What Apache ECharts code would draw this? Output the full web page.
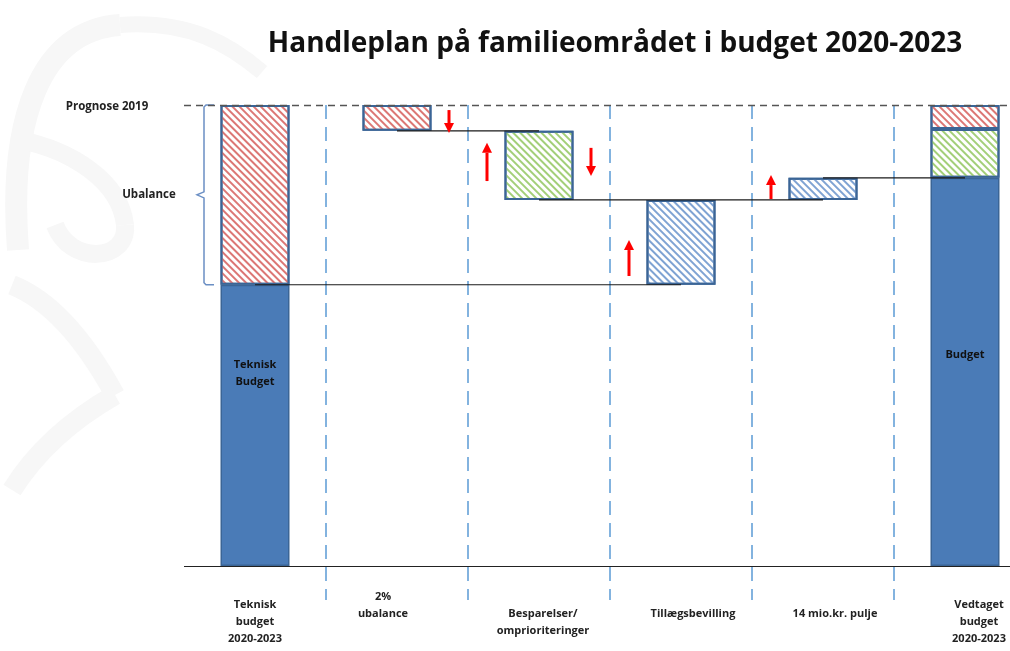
<!DOCTYPE html>
<html>
<head>
<meta charset="utf-8">
<title>Handleplan</title>
<script src="https://cdn.jsdelivr.net/npm/echarts@6/dist/echarts.min.js"></script>
<style>
html, body { margin: 0; padding: 0; background: #fff; }
#main { width: 1010px; height: 651px; }
</style>
</head>
<body>
<div id="main"></div>
<script>
'use strict'
// scale: 0 = bottom line, 100 = Prognose 2019
var categories = [
    'Teknisk\nbudget\n2020-2023',
    '2%\nubalance',
    'Besparelser/\nomprioriteringer',
    'Tillægsbevilling',
    '14 mio.kr. pulje',
    'Vedtaget\nbudget\n2020-2023'
];
var baseValues = [0, 94.4, 79.4, 61, 79.4, 0];
var budgetValues = [61, '-', '-', '-', '-', 84.2];
var blueHatchValues = ['-', '-', '-', 18.4, 4.8, '-'];
var greenValues = ['-', '-', 15, '-', '-', 10.6];
var redValues = [39, 5.6, '-', '-', '-', 5.2];
var barTexts = ['Teknisk\nBudget', '', '', '', '', 'Budget'];
var prognose = 100;
// [from category, to category, level]
var connectors = [[0, 3, 61], [1, 2, 94.4], [2, 4, 79.4], [4, 5, 84.2]];
// [category, side, from, to]
var arrows = [[1, 1, 98.9, 93.9], [2, -1, 83.5, 91.8], [2, 1, 90.7, 84.6], [3, -1, 62.9, 70.7], [4, -1, 79.6, 84.8]];
// [category, low, high]
var ubalance = [[0, 61, 100]];

var chart = echarts.init(document.getElementById('main'));

var border = '#3b6596';
var font = '"Open Sans", sans-serif';
var wm = '#f7f7f7';

// small nudges so the axis labels sit like in the slide
var labelPadding = [
    [0, 0, 0, 0],
    [0, 28, 0, 0],
    [0, 0, 0, 8],
    [0, 0, 0, 24],
    [0, 0, 0, 24],
    [0, 0, 0, 28]
];
var labelAlign = ['middle', 'bottom', 'middle', 'bottom', 'bottom', 'middle'];

function hatch(color) {
    return {
        symbol: 'rect',
        symbolSize: 1,
        color: color,
        dashArrayX: [1, 0],
        dashArrayY: [2, 3],
        rotation: Math.PI / 4
    };
}

function curve(x1, y1, cx1, cy1, cx2, cy2, x2, y2, w) {
    return {
        type: 'bezierCurve', z: -10, silent: true,
        shape: { x1: x1, y1: y1, cpx1: cx1, cpy1: cy1, cpx2: cx2, cpy2: cy2, x2: x2, y2: y2 },
        style: { stroke: wm, lineWidth: w, fill: null }
    };
}

function renderConnector(params, api) {
    var a = api.coord([api.value(0), api.value(2)]);
    var b = api.coord([api.value(1), api.value(2)]);
    return {
        type: 'line',
        z2: 10,
        shape: { x1: a[0], y1: a[1], x2: b[0], y2: b[1] },
        style: { stroke: '#1a1a1a', lineWidth: 1.2 }
    };
}

function renderArrow(params, api) {
    var p1 = api.coord([api.value(0), api.value(2)]);
    var p2 = api.coord([api.value(0), api.value(3)]);
    var x = p1[0] + api.value(1) * 52;
    var dir = p2[1] < p1[1] ? -1 : 1;
    var shaftEnd = p2[1] - dir * 10;
    return {
        type: 'group',
        children: [
            { type: 'line', shape: { x1: x, y1: p1[1], x2: x, y2: shaftEnd }, style: { stroke: '#ff0000', lineWidth: 3 } },
            { type: 'polygon', shape: { points: [[x - 5, shaftEnd], [x + 5, shaftEnd], [x, p2[1]]] }, style: { fill: '#ff0000' } }
        ]
    };
}

function renderBrace(params, api) {
    var lo = api.coord([api.value(0), api.value(1)]);
    var hi = api.coord([api.value(0), api.value(2)]);
    var x = lo[0] - 51;
    var mid = (lo[1] + hi[1]) / 2;
    return {
        type: 'polyline',
        shape: {
            points: [[x + 10, hi[1]], [x + 2, hi[1]], [x, hi[1] + 2], [x, mid - 3], [x - 7, mid],
                [x, mid + 3], [x, lo[1] - 2], [x + 2, lo[1]], [x + 10, lo[1]]]
        },
        style: { stroke: '#6b8fc4', lineWidth: 1.5, fill: null }
    };
}

var barCommon = {
    type: 'bar',
    stack: 'w',
    barWidth: 69,
    silent: true
};

var option = {
    animation: false,
    backgroundColor: '#fff',
    graphic: [
        // faint logo watermark behind the chart
        curve(18, 250, 8, 120, 40, 30, 120, 25, 22),
        curve(120, 25, 190, 20, 230, 45, 262, 72, 16),
        curve(20, 140, 70, 150, 120, 180, 125, 225, 18),
        curve(125, 225, 128, 262, 70, 265, 55, 225, 18),
        curve(12, 285, 50, 300, 85, 340, 115, 395, 20),
        curve(115, 395, 80, 415, 40, 445, 12, 490, 20),
        {
            type: 'text',
            style: {
                text: 'Handleplan på familieområdet i budget 2020-2023',
                x: 615, y: 44, align: 'center', verticalAlign: 'middle',
                font: 'bold 28px ' + font, fill: '#111'
            }
        },
        {
            type: 'text',
            style: { text: 'Prognose 2019', x: 107, y: 107, align: 'center', verticalAlign: 'middle', font: 'bold 11.5px ' + font, fill: '#222' }
        },
        {
            type: 'text',
            style: { text: 'Ubalance', x: 149, y: 195, align: 'center', verticalAlign: 'middle', font: 'bold 11.5px ' + font, fill: '#222' }
        }
    ],
    grid: {
        left: 184,
        width: 852,
        top: 105,
        bottom: 51,
        outerBoundsMode: 'none',
        containLabel: false
    },
    xAxis: {
        type: 'category',
        data: categories.map(function (c, i) {
            return {
                value: c,
                textStyle: {
                    padding: labelPadding[i],
                    verticalAlign: labelAlign[i],
                    color: '#222',
                    fontFamily: font,
                    fontWeight: 'bold',
                    fontSize: 11,
                    lineHeight: 17
                }
            };
        }),
        axisLine: { show: false },
        axisTick: { show: false },
        axisLabel: {
            interval: 0,
            margin: 22,
            verticalAlign: 'middle',
            color: '#222',
            fontFamily: font,
            fontWeight: 'bold',
            fontSize: 11,
            lineHeight: 17
        },
        splitLine: {
            show: true,
            interval: 0,
            showMinLine: false,
            showMaxLine: false,
            lineStyle: { color: '#5b9bd5', type: [14, 8], width: 1.5 }
        }
    },
    yAxis: {
        type: 'value',
        min: -7.4,
        max: 100,
        show: false
    },
    series: [
        Object.assign({}, barCommon, {
            name: 'base',
            data: baseValues,
            itemStyle: { color: 'transparent', borderWidth: 0 },
            markLine: {
                symbol: 'none',
                silent: true,
                label: { show: false },
                data: [
                    { yAxis: prognose, lineStyle: { color: '#555', type: [7, 5], width: 1.3 } },
                    { yAxis: 0, lineStyle: { color: '#222', type: 'solid', width: 1.2 } }
                ]
            }
        }),
        Object.assign({}, barCommon, {
            name: 'budget',
            data: budgetValues.map(function (v, i) {
                return {
                    value: v,
                    label: { offset: i === 0 ? [0, -52] : [0, -17] }
                };
            }),
            itemStyle: { color: '#4a7bb7', borderColor: border, borderWidth: 1.5 },
            label: {
                show: true,
                position: 'inside',
                color: '#111',
                fontFamily: font,
                fontWeight: 'bold',
                fontSize: 11,
                lineHeight: 17,
                formatter: function (p) { return barTexts[p.dataIndex]; }
            }
        }),
        Object.assign({}, barCommon, {
            name: 'blueHatch',
            data: blueHatchValues,
            itemStyle: { color: '#fff', borderColor: border, borderWidth: 2, decal: hatch('#7fa3d3') }
        }),
        Object.assign({}, barCommon, {
            name: 'green',
            data: greenValues,
            itemStyle: { color: '#fff', borderColor: border, borderWidth: 2, decal: hatch('#a3cf78') }
        }),
        Object.assign({}, barCommon, {
            name: 'red',
            data: redValues,
            itemStyle: { color: '#fff', borderColor: border, borderWidth: 2, decal: hatch('#dc7775') }
        }),
        {
            type: 'custom',
            name: 'connectors',
            silent: true,
            z: 5,
            renderItem: renderConnector,
            encode: { x: [0, 1], y: 2 },
            data: connectors
        },
        {
            type: 'custom',
            name: 'arrows',
            silent: true,
            z: 6,
            renderItem: renderArrow,
            encode: { x: 0, y: [2, 3] },
            data: arrows
        },
        {
            type: 'custom',
            name: 'ubalance',
            silent: true,
            renderItem: renderBrace,
            encode: { x: 0, y: [1, 2] },
            data: ubalance
        }
    ]
};

chart.setOption(option);
</script>
</body>
</html>
